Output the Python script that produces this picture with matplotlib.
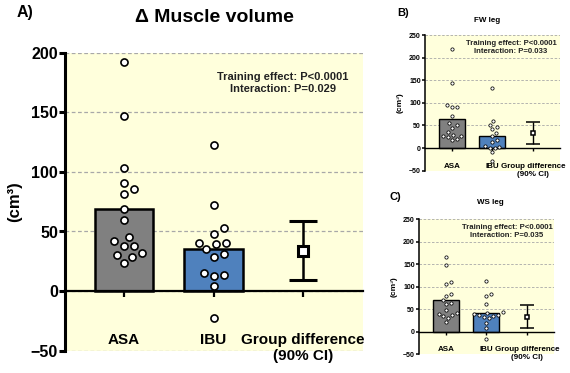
import matplotlib
matplotlib.use('Agg')
import matplotlib.pyplot as plt
import numpy as np

plt.rcParams['font.family'] = ['Liberation Sans', 'DejaVu Sans']
plt.rcParams['font.weight'] = 'bold'

W, H = 570, 373

groups = ['ASA', 'IBU', 'Group difference\n(90% CI)']

# A) whole muscle volume change (cm3)
a_asa = [192, 147, 103.5, 90.5, 86, 81.5, 68.5, 59.5, 45.5, 42, 38, 38, 32, 30, 29, 23.5]
a_ibu = [122.5, 72, 53, 48, 40.5, 39.5, 40.5, 35, 31, 28.5, 15.5, 13, 13.5, 4, -22.5]
a_means = [68.5, 35]
a_diff = 33.5
a_ci = [9, 58.5]

# B) FW leg
b_asa = [218, 144, 96, 91, 91, 72, 55, 50, 45, 36, 30, 27, 26, 24, 21, 17]
b_ibu = [132, 59, 52, 47, 43, 33, 26, 18, 13, 4, 2, 1, 0, -9, -29]
b_means = [64, 26]
b_diff = 34
b_ci = [9, 58]

# C) WS leg
c_asa = [166, 149, 111, 107, 83, 80, 71, 65, 62, 49, 41, 40, 38, 35, 30, 21]
c_ibu = [113, 84, 80, 62, 44, 42, 40, 38, 37, 35, 34, 30, 20, 9, -15]
c_means = [71, 42]
c_diff = 33
c_ci = [9, 59]

YELLOW = '#FFFFDC'
BAR_COLORS = ['#808080', '#4F81BD']


def swarm(values, diam, xscale, yscale, gap=1.3):
    # simple beeswarm: place each point as close to the centre as possible
    order = np.argsort(values)
    placed = []
    offs = np.zeros(len(values))
    step = diam / 3.0
    cands = [0.0]
    for k in range(1, 40):
        cands += [k * step, -k * step]
    for i in order:
        y = values[i] * yscale
        for c in cands:
            ok = True
            for (px, py) in placed:
                if np.hypot(px - c, py - y) < diam * gap:
                    ok = False
                    break
            if ok:
                placed.append((c, y))
                offs[i] = c / xscale
                break
    return offs


def panel(rect, asa, ibu, means, diff, ci, ymin, ymax, s):
    ax = fig.add_axes(rect)
    xlo, xhi = -0.66, 2.67
    ax.set_xlim(xlo, xhi)
    ax.set_ylim(ymin, ymax)
    ax.set_facecolor(YELLOW)
    ax.set_axisbelow(True)
    ax.yaxis.grid(True, ls=(0, (3, 2)), color='#A8A8A8', lw=s['grid'])

    ax.bar([0, 1], means, width=0.65, color=BAR_COLORS,
           edgecolor='black', linewidth=s['edge'], zorder=2)

    xscale = rect[2] * W / (xhi - xlo)
    yscale = rect[3] * H / (ymax - ymin)
    for pos, vals in [(0, asa), (1, ibu)]:
        vals = np.array(vals, dtype=float)
        offs = swarm(vals, s['diam'], xscale, yscale)
        ax.scatter(pos + offs, vals, s=s['msize'], facecolor='white',
                   edgecolor='black', linewidth=s['mew'], zorder=3,
                   clip_on=False)

    ax.errorbar([2], [diff], yerr=[[diff - ci[0]], [ci[1] - diff]],
                fmt='s', color='black', mfc='white', mec='black',
                ms=s['sq'], mew=s['sqw'], elinewidth=s['edge'],
                capsize=s['cap'], capthick=s['edge'], zorder=4)

    for side in ['top', 'right']:
        ax.spines[side].set_visible(False)
    ax.spines['bottom'].set_position(('data', 0))
    ax.spines['bottom'].set_linewidth(s['zero'])
    ax.spines['left'].set_linewidth(s['spine'])

    ax.set_yticks(np.arange(ymin, ymax + 1, 50))
    ax.set_xticks([0, 1, 2])
    ax.set_xticklabels(groups)
    ax.tick_params(axis='y', labelsize=s['ytick'], length=s['tlen'],
                   width=s['spine'], pad=1)
    ax.tick_params(axis='x', labelsize=s['xtick'], length=s['tlen'],
                   width=s['zero'], pad=s['xpad'])
    for lab in ax.get_xticklabels() + ax.get_yticklabels():
        lab.set_fontweight('bold')
    ax.set_ylabel('(cm³)', fontsize=s['ylab'], fontweight='bold')
    ax.yaxis.set_label_coords(s['ylx'], 0.5)
    return ax


big = dict(grid=0.9, edge=1.8, diam=7.5, msize=26, mew=1.2, sq=7, sqw=2.2,
           cap=10, zero=1.6, spine=2.2, ytick=11.5, xtick=11, tlen=4,
           xpad=26, ylab=12, ylx=-0.145)
small = dict(grid=0.6, edge=1.0, diam=3.6, msize=5.5, mew=0.55, sq=3.5,
             sqw=1.1, cap=5, zero=1.0, spine=1.1, ytick=5, xtick=5.8, tlen=2,
             xpad=8.5, ylab=6, ylx=-0.162)

fig = plt.figure(figsize=(W / 100, H / 100), dpi=100)

panel([65 / W, 1 - 350.7 / H, 298 / W, 298 / H],
      a_asa, a_ibu, a_means, a_diff, a_ci, -50, 200, big)
panel([425 / W, 1 - 170.7 / H, 135 / W, 135.7 / H],
      b_asa, b_ibu, b_means, b_diff, b_ci, -50, 250, small)
panel([419 / W, 1 - 354.3 / H, 135 / W, 135 / H],
      c_asa, c_ibu, c_means, c_diff, c_ci, -50, 250, small)


def ftext(x, y, txt, **kw):
    fig.text(x / W, 1 - y / H, txt, fontweight='bold', **kw)


ftext(17, 13, 'A)', fontsize=11.5, ha='left', va='center')
ftext(214, 18, 'Δ Muscle volume', fontsize=14, ha='center', va='center')
ftext(283, 83, 'Training effect: P<0.0001\nInteraction: P=0.029',
      fontsize=8, ha='center', va='center', color='#222222', linespacing=1.15)

ftext(397, 13.5, 'B)', fontsize=8, ha='left', va='center')
ftext(487, 20.5, 'FW leg', fontsize=5.8, ha='center', va='center')
ftext(511, 47.5, 'Training effect: P<0.0001\nInteraction: P=0.033',
      fontsize=5.6, ha='center', va='center', color='#222222', linespacing=1.15)

ftext(390, 196.5, 'C)', fontsize=8, ha='left', va='center')
ftext(490, 203, 'WS leg', fontsize=5.8, ha='center', va='center')
ftext(507, 231.5, 'Training effect: P<0.0001\nInteraction: P=0.035',
      fontsize=5.6, ha='center', va='center', color='#222222', linespacing=1.15)

fig.savefig('out.png', dpi=100)
